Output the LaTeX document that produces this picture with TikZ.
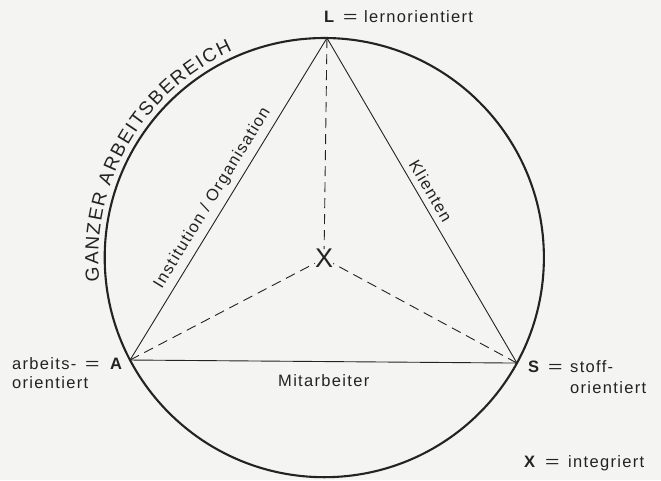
\documentclass[tikz,border=0pt]{standalone}
\usepackage{fontspec}
\setmainfont{Liberation Sans}[LetterSpace=8]
\newfontfamily\plainfont{Liberation Sans}
\usetikzlibrary{decorations.text}
\definecolor{ink}{RGB}{35,35,35}
\definecolor{paper}{RGB}{244,244,242}
\newcommand{\lblsize}{\fontsize{16.5}{19}\selectfont}
\newcommand{\eqsign}{\scalebox{1.5}[1]{=}}
\begin{document}
\begin{tikzpicture}[x=1pt,y=1pt,
  lbl/.style={anchor=base west, inner sep=0pt, text=ink, font=\lblsize},
  boldlbl/.style={lbl, font=\lblsize\bfseries},
  tri/.style={draw=ink, line width=0.9pt},
  dashline/.style={draw=ink, line width=0.9pt, dash pattern=on 10pt off 6pt},
  edgelbl/.style={sloped, text=ink, font=\lblsize, inner sep=1pt}]
\fill[paper] (0,0) rectangle (661,-480);
\path[use as bounding box] (0,0) rectangle (661,-480);

\coordinate (C) at (324.3,-257.6);
\coordinate (L) at ([shift={(89.3:219.6)}]C);
\coordinate (A) at ([shift={(207.8:219.6)}]C);
\coordinate (S) at ([shift={(331.3:219.6)}]C);

% outer circle
\draw[ink, line width=2.1pt] (C) circle[radius=219.6];

% arc text
\path[decorate, decoration={text along path,
   text={|\color{ink}\plainfont\fontsize{19}{19}\selectfont|GANZER ARBEITSBEREICH},
   text align=fit to path}]
   ([shift={(186:226)}]C) arc[start angle=186, end angle=114, radius=226];

% center X
\node[inner sep=0pt, text=ink, font=\plainfont\fontsize{27}{27}\selectfont] (X) at (324,-258.5) {X};

% triangle
\draw[tri] (A) -- node[edgelbl, above=5pt, pos=0.48] (inst) {Institution / Organisation} (L);
\draw[tri] (L) -- node[edgelbl, above=5pt, pos=0.49] (kli) {Klienten} (S);
\draw[tri] (A) -- (S);
\node[lbl] (mit) at (278,-386) {Mitarbeiter};

% dashed lines to X
\draw[dashline] (L) -- (X);
\draw[dashline] (A) -- (X);
\draw[dashline] (S) -- (X);

% L label
\node[boldlbl] (Lb) at (324,-22) {L};
\node[lbl] (Leq) at (343,-22) {\eqsign};
\node[lbl] (Lw) at (364,-22) {lernorientiert};

% A label
\node[lbl] (Aw1) at (12,-369) {arbeits-};
\node[lbl] (Aw2) at (12,-388) {orientiert};
\node[lbl] (Aeq) at (85,-369) {\eqsign};
\node[boldlbl] (Ab) at (110,-369) {A};

% S label
\node[boldlbl] (Sb) at (528,-372) {S};
\node[lbl] (Seq) at (548,-372) {\eqsign};
\node[lbl] (Sw1) at (570,-372) {stoff-};
\node[lbl] (Sw2) at (570,-393) {orientiert};

% X legend
\node[boldlbl] (Xb) at (524,-467) {X};
\node[lbl] (Xeq) at (545,-467) {\eqsign};
\node[lbl] (Xw) at (568,-467) {integriert};
\end{tikzpicture}
\end{document}
